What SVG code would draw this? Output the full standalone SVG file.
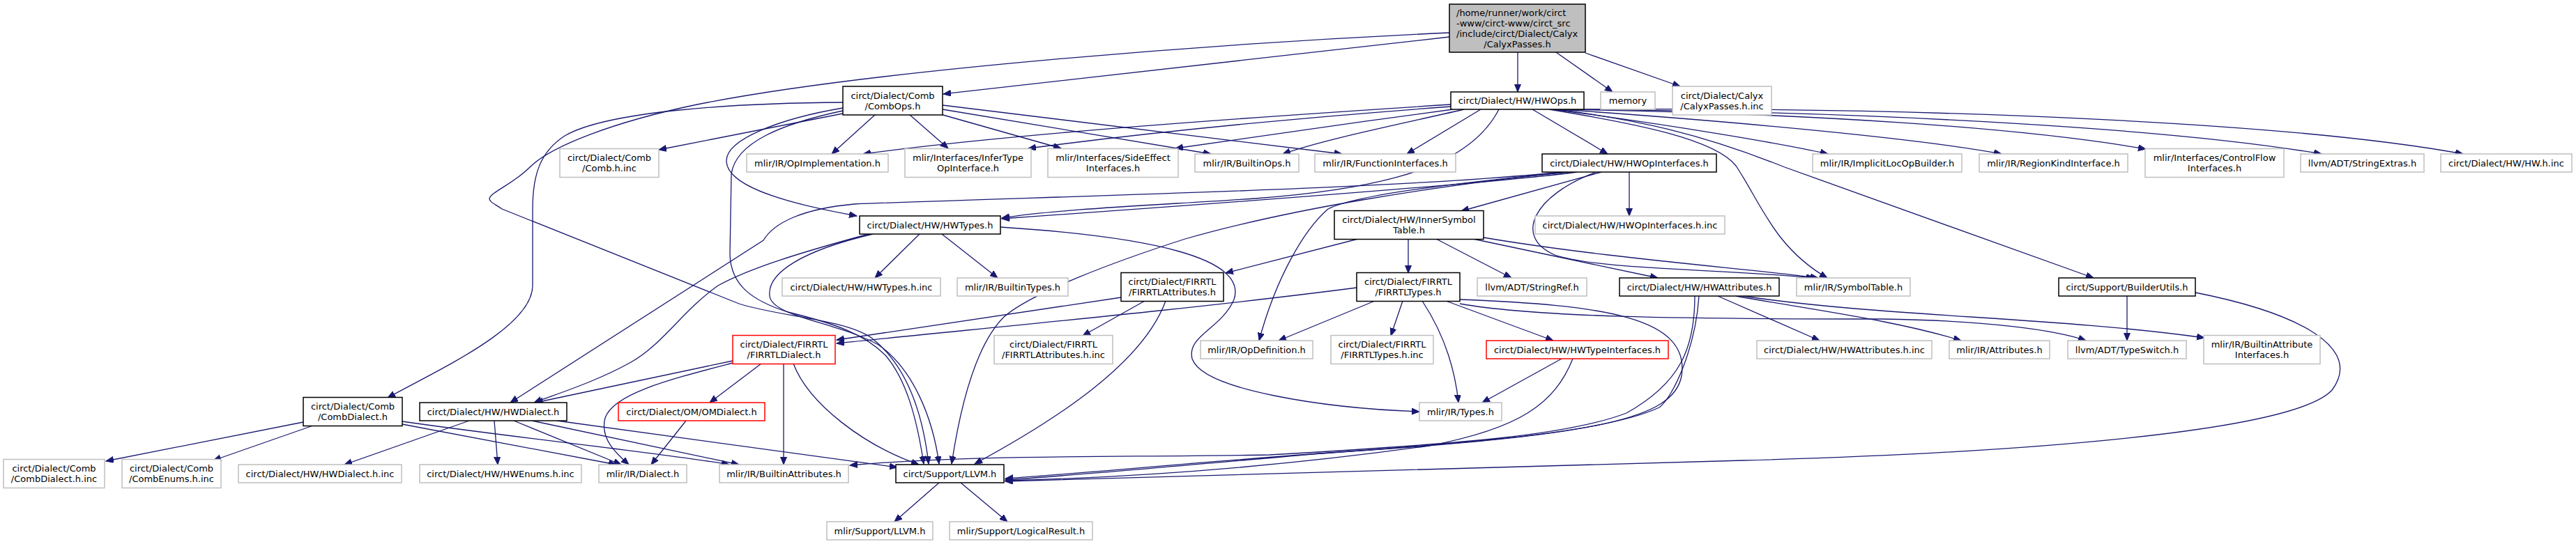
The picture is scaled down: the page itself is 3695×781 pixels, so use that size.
<svg xmlns="http://www.w3.org/2000/svg" width="3695" height="781" viewBox="0 0 3695 781">
<defs>
<style>
rect{fill:#fff;stroke-width:1.5}
.b{stroke:#000}
.g{stroke:#bfbfbf}
.r{stroke:#ff0000}
.root{fill:#bfbfbf;stroke:#000}
text{font-family:"DejaVu Sans","Liberation Sans",sans-serif;font-size:13px;fill:#000;text-anchor:middle}
.l{text-anchor:start}
#edges path{fill:none;stroke:#191970;stroke-width:1.3;marker-end:url(#a)}
</style>
<marker id="a" markerWidth="12" markerHeight="10" refX="11" refY="4.5" orient="auto" markerUnits="userSpaceOnUse"><path d="M0,0 L11,4.5 L0,9 Z" fill="#191970" stroke="#191970" stroke-width="1"/></marker>
</defs>
<rect x="0" y="0" width="3695" height="781" style="fill:#fff;stroke:none"/>
<g id="edges">
<path d="M2177,75 L2177,132"/>
<path d="M2232,75 L2313,132"/>
<path d="M2274,76 L2410,124"/>
<path d="M2079,53 C1950,68 1650,100 1353,135"/>
<path d="M2079,47 C1750,62 1250,100 1000,150 C880,175 790,210 760,240 C735,265 705,275 702,285 C702,290 710,293 720,300 L1060,436 C1120,455 1210,458 1250,485 C1295,520 1322,580 1332,666"/>
<path d="M1209,163 L945,215"/>
<path d="M1256,164 L1193,221"/>
<path d="M1304,164 L1360,213"/>
<path d="M1349,164 L1522,213"/>
<path d="M1352,157 L1737,221"/>
<path d="M1352,151 L1925,221"/>
<path d="M1209,155 C1120,170 1040,200 1042,232 C1044,272 1150,296 1229,310"/>
<path d="M1209,147 C1050,148 870,160 810,195 C775,218 764,250 764,300 L764,410 C764,470 630,530 556,571"/>
<path d="M1209,159 C1120,178 1055,205 1049,250 L1047,365 C1048,410 1080,432 1130,448 C1200,465 1240,480 1270,510 C1300,545 1315,600 1325,666"/>
<path d="M2081,150 C1800,168 1450,192 1238,221"/>
<path d="M2081,153 C1850,170 1650,190 1475,213"/>
<path d="M2084,157 C1950,175 1800,196 1686,213"/>
<path d="M2100,157 C2000,180 1900,200 1840,221"/>
<path d="M2124,157 L2018,221"/>
<path d="M2198,157 L2306,221"/>
<path d="M2228,157 C2400,180 2550,205 2622,221"/>
<path d="M2236,157 C2500,175 2760,200 2871,221"/>
<path d="M2244,157 C2600,163 2900,183 3078,214"/>
<path d="M2250,157 C2700,160 3120,185 3330,221"/>
<path d="M2256,157 C2800,153 3300,178 3533,221"/>
<path d="M2232,157 C2350,172 2440,192 2560,240 L3003,399"/>
<path d="M2222,157 C2350,178 2460,200 2490,238 C2525,290 2545,355 2621,399"/>
<path d="M2150,157 C2110,235 2000,270 1800,285 C1650,295 1520,300 1437,313"/>
<path d="M2337,247 L2337,310"/>
<path d="M2297,247 L2096,303"/>
<path d="M2290,247 C2200,280 2170,340 2230,366 C2300,388 2450,385 2602,399"/>
<path d="M2262,247 C2150,262 1750,292 1437,314"/>
<path d="M2250,247 C2100,262 1950,278 1905,300 C1870,330 1830,400 1806,489"/>
<path d="M2245,247 C2050,268 1850,300 1700,343 C1600,375 1480,420 1440,455 C1395,500 1375,600 1365,666"/>
<path d="M2240,247 C2000,272 1500,282 1225,293 C1150,300 1110,320 1095,345 L732,578"/>
<path d="M2020,343 L2020,392"/>
<path d="M1948,343 L1758,392"/>
<path d="M2060,343 L2168,399"/>
<path d="M2113,343 L2378,399"/>
<path d="M2128,341 C2300,370 2500,385 2608,399"/>
<path d="M1319,336 L1255,399"/>
<path d="M1351,336 L1431,399"/>
<path d="M1435,326 C1650,340 1790,370 1770,430 C1752,472 1702,482 1710,515 C1725,560 1900,586 2036,591"/>
<path d="M1246,336 C1150,362 1075,385 1030,410 C980,445 950,495 905,520 C855,548 800,565 766,578"/>
<path d="M1252,336 C1150,360 1100,392 1104,425 C1108,455 1200,462 1260,495 C1310,530 1338,600 1347,666"/>
<path d="M1608,427 L1200,488"/>
<path d="M1642,432 L1553,482"/>
<path d="M1672,432 C1640,520 1520,600 1398,666"/>
<path d="M1946,413 C1700,445 1400,472 1200,493"/>
<path d="M1972,432 L1834,489"/>
<path d="M2012,432 L1995,482"/>
<path d="M2040,432 C2065,470 2086,520 2092,578"/>
<path d="M2074,432 L2228,489"/>
<path d="M2094,436 C2200,455 2400,458 2700,458 C2850,460 2950,474 2992,489"/>
<path d="M2094,430 C2300,438 2425,455 2412,540 C2400,600 2300,625 1906,650 C1700,665 1550,680 1442,687"/>
<path d="M2464,425 L2610,489"/>
<path d="M2490,425 C2600,445 2720,460 2813,489"/>
<path d="M2500,425 C2700,455 2950,455 3162,485"/>
<path d="M2431,425 C2431,500 2410,550 2333,593 C2250,625 2100,637 1821,653 C1600,657 1400,652 1219,668"/>
<path d="M2437,425 C2432,500 2400,570 2380,585 C2300,622 2112,635 1883,652 C1700,668 1550,682 1442,689"/>
<path d="M3051,425 L3051,489"/>
<path d="M3149,420 C3300,450 3390,500 3345,560 C3290,620 2900,650 2500,661 C2000,675 1700,685 1442,691"/>
<path d="M2240,515 L2126,578"/>
<path d="M2256,515 C2230,580 2180,615 2050,640 C1800,675 1600,686 1442,690"/>
<path d="M1051,518 L768,578"/>
<path d="M1051,521 C960,545 880,565 868,600 C860,630 885,652 902,667"/>
<path d="M1092,522 L1018,578"/>
<path d="M1124,522 L1124,667"/>
<path d="M1138,522 C1160,580 1240,640 1318,667"/>
<path d="M984,604 L934,667"/>
<path d="M673,604 L494,667"/>
<path d="M709,604 L714,667"/>
<path d="M737,604 L891,667"/>
<path d="M763,604 L1060,667"/>
<path d="M799,604 L1287,671"/>
<path d="M435,606 L152,662"/>
<path d="M449,611 L306,661"/>
<path d="M577,609 L884,667"/>
<path d="M577,605 C750,630 950,650 1046,667"/>
<path d="M1347,693 L1283,749"/>
<path d="M1378,693 L1445,749"/>
</g>
<g id="root"><rect class="root" x="2079" y="6" width="195" height="69"/><text class="l" x="2089" y="22.5">/home/runner/work/circt</text><text class="l" x="2089" y="37.5">-www/circt-www/circt_src</text><text class="l" x="2089" y="52.5">/include/circt/Dialect/Calyx</text><text x="2176.5" y="67.5">/CalyxPasses.h</text></g>
<g id="combops"><rect class="b" x="1209" y="124" width="143" height="41"/><text x="1280.5" y="141.5">circt/Dialect/Comb</text><text x="1280.5" y="156.5">/CombOps.h</text></g>
<g id="hwops"><rect class="b" x="2081" y="132" width="191" height="25"/><text x="2176.5" y="149">circt/Dialect/HW/HWOps.h</text></g>
<g id="memory"><rect class="g" x="2296" y="132" width="78" height="25"/><text x="2335" y="149">memory</text></g>
<g id="calyxinc"><rect class="g" x="2399" y="124" width="142" height="41"/><text x="2470" y="141.5">circt/Dialect/Calyx</text><text x="2470" y="156.5">/CalyxPasses.h.inc</text></g>
<g id="combinc"><rect class="g" x="803" y="213.5" width="142" height="41"/><text x="874" y="231">circt/Dialect/Comb</text><text x="874" y="246">/Comb.h.inc</text></g>
<g id="opimpl"><rect class="g" x="1071" y="221" width="203" height="26"/><text x="1172.5" y="238.5">mlir/IR/OpImplementation.h</text></g>
<g id="infertype"><rect class="g" x="1298" y="213.5" width="181" height="41"/><text x="1388.5" y="231">mlir/Interfaces/InferType</text><text x="1388.5" y="246">OpInterface.h</text></g>
<g id="sideeffect"><rect class="g" x="1503" y="213.5" width="187" height="41"/><text x="1596.5" y="231">mlir/Interfaces/SideEffect</text><text x="1596.5" y="246">Interfaces.h</text></g>
<g id="builtinops"><rect class="g" x="1714" y="221" width="149" height="26"/><text x="1788.5" y="238.5">mlir/IR/BuiltinOps.h</text></g>
<g id="funcif"><rect class="g" x="1886" y="221" width="202" height="26"/><text x="1987" y="238.5">mlir/IR/FunctionInterfaces.h</text></g>
<g id="hwopif"><rect class="b" x="2212" y="221" width="250" height="26"/><text x="2337" y="238.5">circt/Dialect/HW/HWOpInterfaces.h</text></g>
<g id="implicitloc"><rect class="g" x="2600" y="221" width="214" height="26"/><text x="2707" y="238.5">mlir/IR/ImplicitLocOpBuilder.h</text></g>
<g id="regionkind"><rect class="g" x="2839" y="221" width="213" height="26"/><text x="2945.5" y="238.5">mlir/IR/RegionKindInterface.h</text></g>
<g id="controlflow"><rect class="g" x="3077" y="213.5" width="199" height="41"/><text x="3176.5" y="231">mlir/Interfaces/ControlFlow</text><text x="3176.5" y="246">Interfaces.h</text></g>
<g id="stringextras"><rect class="g" x="3300" y="221" width="177" height="26"/><text x="3388.5" y="238.5">llvm/ADT/StringExtras.h</text></g>
<g id="hwinc"><rect class="g" x="3501" y="221" width="188" height="26"/><text x="3595" y="238.5">circt/Dialect/HW/HW.h.inc</text></g>
<g id="hwtypes"><rect class="b" x="1233" y="310" width="202" height="26"/><text x="1334" y="327.5">circt/Dialect/HW/HWTypes.h</text></g>
<g id="innersym"><rect class="b" x="1914" y="302.5" width="214" height="41"/><text x="2021" y="320">circt/Dialect/HW/InnerSymbol</text><text x="2021" y="335">Table.h</text></g>
<g id="hwopifinc"><rect class="g" x="2202" y="310" width="272" height="26"/><text x="2338" y="327.5">circt/Dialect/HW/HWOpInterfaces.h.inc</text></g>
<g id="hwtypesinc"><rect class="g" x="1122" y="399" width="227" height="26"/><text x="1235.5" y="416.5">circt/Dialect/HW/HWTypes.h.inc</text></g>
<g id="builtintypes"><rect class="g" x="1373" y="399" width="159" height="26"/><text x="1452.5" y="416.5">mlir/IR/BuiltinTypes.h</text></g>
<g id="firrtlattr"><rect class="b" x="1608" y="391.5" width="147" height="41"/><text x="1681.5" y="409">circt/Dialect/FIRRTL</text><text x="1681.5" y="424">/FIRRTLAttributes.h</text></g>
<g id="firrtltypes"><rect class="b" x="1946" y="391.5" width="148" height="41"/><text x="2020" y="409">circt/Dialect/FIRRTL</text><text x="2020" y="424">/FIRRTLTypes.h</text></g>
<g id="stringref"><rect class="g" x="2119" y="399" width="157" height="26"/><text x="2197.5" y="416.5">llvm/ADT/StringRef.h</text></g>
<g id="hwattr"><rect class="b" x="2323" y="399" width="229" height="26"/><text x="2437.5" y="416.5">circt/Dialect/HW/HWAttributes.h</text></g>
<g id="symboltable"><rect class="g" x="2577" y="399" width="163" height="26"/><text x="2658.5" y="416.5">mlir/IR/SymbolTable.h</text></g>
<g id="builderutils"><rect class="b" x="2953" y="399" width="196" height="26"/><text x="3051" y="416.5">circt/Support/BuilderUtils.h</text></g>
<g id="firrtldialect"><rect class="r" x="1051" y="481.5" width="147" height="41"/><text x="1124.5" y="499">circt/Dialect/FIRRTL</text><text x="1124.5" y="514">/FIRRTLDialect.h</text></g>
<g id="firrtlattrinc"><rect class="g" x="1426" y="481.5" width="170" height="41"/><text x="1511" y="499">circt/Dialect/FIRRTL</text><text x="1511" y="514">/FIRRTLAttributes.h.inc</text></g>
<g id="opdef"><rect class="g" x="1722" y="489" width="161" height="26"/><text x="1802.5" y="506.5">mlir/IR/OpDefinition.h</text></g>
<g id="firrtltypesinc"><rect class="g" x="1909" y="481.5" width="147" height="41"/><text x="1982.5" y="499">circt/Dialect/FIRRTL</text><text x="1982.5" y="514">/FIRRTLTypes.h.inc</text></g>
<g id="hwtypeif"><rect class="r" x="2132" y="489" width="261" height="26"/><text x="2262.5" y="506.5">circt/Dialect/HW/HWTypeInterfaces.h</text></g>
<g id="hwattrinc"><rect class="g" x="2520" y="489" width="251" height="26"/><text x="2645.5" y="506.5">circt/Dialect/HW/HWAttributes.h.inc</text></g>
<g id="attributes"><rect class="g" x="2796" y="489" width="144" height="26"/><text x="2868" y="506.5">mlir/IR/Attributes.h</text></g>
<g id="typeswitch"><rect class="g" x="2966" y="489" width="170" height="26"/><text x="3051" y="506.5">llvm/ADT/TypeSwitch.h</text></g>
<g id="builtinattrif"><rect class="g" x="3161" y="481.5" width="167" height="41"/><text x="3244.5" y="499">mlir/IR/BuiltinAttribute</text><text x="3244.5" y="514">Interfaces.h</text></g>
<g id="combdialect"><rect class="b" x="435" y="570.5" width="142" height="41"/><text x="506" y="588">circt/Dialect/Comb</text><text x="506" y="603">/CombDialect.h</text></g>
<g id="hwdialect"><rect class="b" x="602" y="578" width="211" height="26"/><text x="707.5" y="595.5">circt/Dialect/HW/HWDialect.h</text></g>
<g id="omdialect"><rect class="r" x="887" y="578" width="210" height="26"/><text x="992" y="595.5">circt/Dialect/OM/OMDialect.h</text></g>
<g id="types"><rect class="g" x="2036" y="578" width="118" height="26"/><text x="2095" y="595.5">mlir/IR/Types.h</text></g>
<g id="combdialectinc"><rect class="g" x="5" y="659.5" width="145" height="41"/><text x="77.5" y="677">circt/Dialect/Comb</text><text x="77.5" y="692">/CombDialect.h.inc</text></g>
<g id="combenumsinc"><rect class="g" x="175" y="659.5" width="142" height="41"/><text x="246" y="677">circt/Dialect/Comb</text><text x="246" y="692">/CombEnums.h.inc</text></g>
<g id="hwdialectinc"><rect class="g" x="342" y="667" width="234" height="26"/><text x="459" y="684.5">circt/Dialect/HW/HWDialect.h.inc</text></g>
<g id="hwenumsinc"><rect class="g" x="602" y="667" width="232" height="26"/><text x="718" y="684.5">circt/Dialect/HW/HWEnums.h.inc</text></g>
<g id="dialect"><rect class="g" x="859" y="667" width="126" height="26"/><text x="922" y="684.5">mlir/IR/Dialect.h</text></g>
<g id="builtinattr"><rect class="g" x="1032" y="667" width="185" height="26"/><text x="1124.5" y="684.5">mlir/IR/BuiltinAttributes.h</text></g>
<g id="circtllvm"><rect class="b" x="1285" y="667" width="155" height="26"/><text x="1362.5" y="684.5">circt/Support/LLVM.h</text></g>
<g id="mlirllvm"><rect class="g" x="1186" y="749" width="152" height="26"/><text x="1262" y="766.5">mlir/Support/LLVM.h</text></g>
<g id="logicalresult"><rect class="g" x="1362" y="749" width="205" height="26"/><text x="1464.5" y="766.5">mlir/Support/LogicalResult.h</text></g>
</svg>
